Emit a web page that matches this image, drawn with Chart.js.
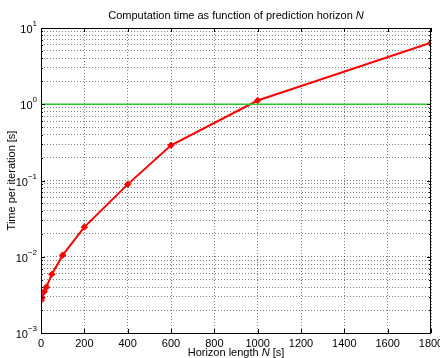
<!DOCTYPE html>
<html>
<head>
<meta charset="utf-8">
<script src="https://cdn.jsdelivr.net/npm/chart.js@4.4.1/dist/chart.umd.min.js"></script>
<style>
  body { margin: 0; background: #fff; }
  #wrap { width: 440px; height: 358px; }
</style>
</head>
<body>
<div id="wrap"><canvas id="mycanvas" width="440" height="358"></canvas></div>
<script>
// values
var horizonN = [1, 5, 15, 25, 50, 100, 200, 400, 600, 1000, 1800];
var timePerIter = [0.0027, 0.0029, 0.0035, 0.0040, 0.0059, 0.0105, 0.0245, 0.089, 0.29, 1.12, 6.4];
var limitN = [0, 1800];
var limitTime = [1, 1];
var xTicks = [0, 200, 400, 600, 800, 1000, 1200, 1400, 1600, 1800];
var yDecades = [-3, -2, -1, 0, 1];

var FONT = '"Liberation Sans", Arial, sans-serif';

function toPoints(xs, ys) {
  var pts = [];
  for (var i = 0; i < xs.length; i++) pts.push({x: xs[i], y: ys[i]});
  return pts;
}

// titles with italic N, log tick labels with superscripts, inward ticks, box
var matlabLook = {
  id: 'matlabLook',
  afterDraw: function(chart) {
    var c = chart.ctx, a = chart.chartArea;
    var xs = chart.scales.x, ys = chart.scales.y;
    c.save();
    c.strokeStyle = '#000';
    c.lineWidth = 1;
    c.strokeRect(a.left + 0.5, a.top + 0.5, a.right - a.left - 1, a.bottom - a.top);

    // inward tick marks
    c.beginPath();
    xTicks.forEach(function(v) {
      var px = Math.round(xs.getPixelForValue(v)) + 0.5;
      c.moveTo(px, a.bottom); c.lineTo(px, a.bottom - 4);
      c.moveTo(px, a.top); c.lineTo(px, a.top + 4);
    });
    ys.ticks.forEach(function(t) {
      var py = Math.round(ys.getPixelForValue(t.value)) + 0.5;
      var len = t.major ? 4 : 2;
      c.moveTo(a.left, py); c.lineTo(a.left + len, py);
      c.moveTo(a.right, py); c.lineTo(a.right - len, py);
    });
    c.stroke();

    c.fillStyle = '#000';
    c.textBaseline = 'alphabetic';

    // y tick labels 10^k
    yDecades.forEach(function(e) {
      var py = ys.getPixelForValue(Math.pow(10, e));
      var base = '10';
      var exp = String(e).replace('-', '\u2212');
      c.font = '8px ' + FONT;
      var we = c.measureText(exp).width;
      c.font = '11px ' + FONT;
      var wb = c.measureText(base).width;
      var right = a.left - 4;
      c.textAlign = 'left';
      c.fillText(base, right - we - wb, py + 5);
      c.font = '8px ' + FONT;
      c.fillText(exp, right - we, py - 2);
    });

    // x tick labels
    c.font = '11px ' + FONT;
    c.textAlign = 'center';
    xTicks.forEach(function(v) {
      c.fillText(String(v), xs.getPixelForValue(v), a.bottom + 14);
    });
    c.textAlign = 'left';

    // title
    var t1 = 'Computation time as function of prediction horizon ';
    c.font = '11px ' + FONT;
    var w1 = c.measureText(t1).width;
    c.font = 'italic 11px ' + FONT;
    var w2 = c.measureText('N').width;
    var cx = (a.left + a.right) / 2;
    var sx = cx - (w1 + w2) / 2;
    c.font = '11px ' + FONT;
    c.fillText(t1, sx, 19);
    c.font = 'italic 11px ' + FONT;
    c.fillText('N', sx + w1, 19);

    // x label
    var p1 = 'Horizon length ', p3 = ' [s]';
    c.font = '11px ' + FONT;
    var a1 = c.measureText(p1).width, a3 = c.measureText(p3).width;
    c.font = 'italic 11px ' + FONT;
    var a2 = c.measureText('N').width;
    var lx = cx - (a1 + a2 + a3) / 2;
    c.font = '11px ' + FONT;
    c.fillText(p1, lx, 356);
    c.font = 'italic 11px ' + FONT;
    c.fillText('N', lx + a1, 356);
    c.font = '11px ' + FONT;
    c.fillText(p3, lx + a1 + a2, 356);

    // y label
    c.translate(15, (a.top + a.bottom) / 2);
    c.rotate(-Math.PI / 2);
    c.textAlign = 'center';
    c.font = '11px ' + FONT;
    c.fillText('Time per iteration [s]', 0, 0);
    c.restore();
  }
};

var ctx = document.getElementById('mycanvas');

var chart = new Chart(ctx, {
  type: 'line',
  data: {
    datasets: [
      {
        label: 'limit',
        data: toPoints(limitN, limitTime),
        borderColor: '#2fc42f',
        borderWidth: 1.5,
        pointRadius: 0,
        fill: false
      },
      {
        label: 'Time per iteration',
        data: toPoints(horizonN, timePerIter),
        borderColor: '#ff0000',
        backgroundColor: '#ff0000',
        borderWidth: 2,
        pointStyle: 'rectRot',
        pointRadius: 3.2,
        pointBorderWidth: 1,
        tension: 0,
        fill: false
      }
    ]
  },
  options: {
    responsive: false,
    animation: false,
    layout: { padding: { left: 0, right: 9, top: 28, bottom: 0 } },
    plugins: {
      legend: { display: false },
      title: { display: false },
      tooltip: { enabled: false }
    },
    scales: {
      x: {
        type: 'linear',
        min: 0,
        max: 1800,
        afterBuildTicks: function(scale) {
          scale.ticks = xTicks.map(function(v) { return {value: v}; });
        },
        afterFit: function(scale) {
          scale.height = 25;
          scale.paddingLeft = 0;
          scale.paddingRight = 0;
        },
        border: { display: false, dash: [1, 2] },
        grid: {
          drawTicks: false,
          color: 'rgba(0,0,0,0.5)',
          lineWidth: 1
        },
        ticks: { display: false }
      },
      y: {
        type: 'logarithmic',
        min: 0.001,
        max: 10,
        afterBuildTicks: function(scale) {
          var t = [];
          for (var e = -3; e <= 0; e++) {
            for (var m = 1; m <= 9; m++) {
              t.push({value: m * Math.pow(10, e), major: m === 1});
            }
          }
          t.push({value: 10, major: true});
          scale.ticks = t;
        },
        afterFit: function(scale) {
          scale.width = 41;
          scale.paddingTop = 0;
          scale.paddingBottom = 0;
        },
        border: { display: false, dash: [1, 2] },
        grid: {
          drawTicks: false,
          color: 'rgba(0,0,0,0.5)'
        },
        ticks: { display: false }
      }
    }
  },
  plugins: [matlabLook]
});
</script>
</body>
</html>
